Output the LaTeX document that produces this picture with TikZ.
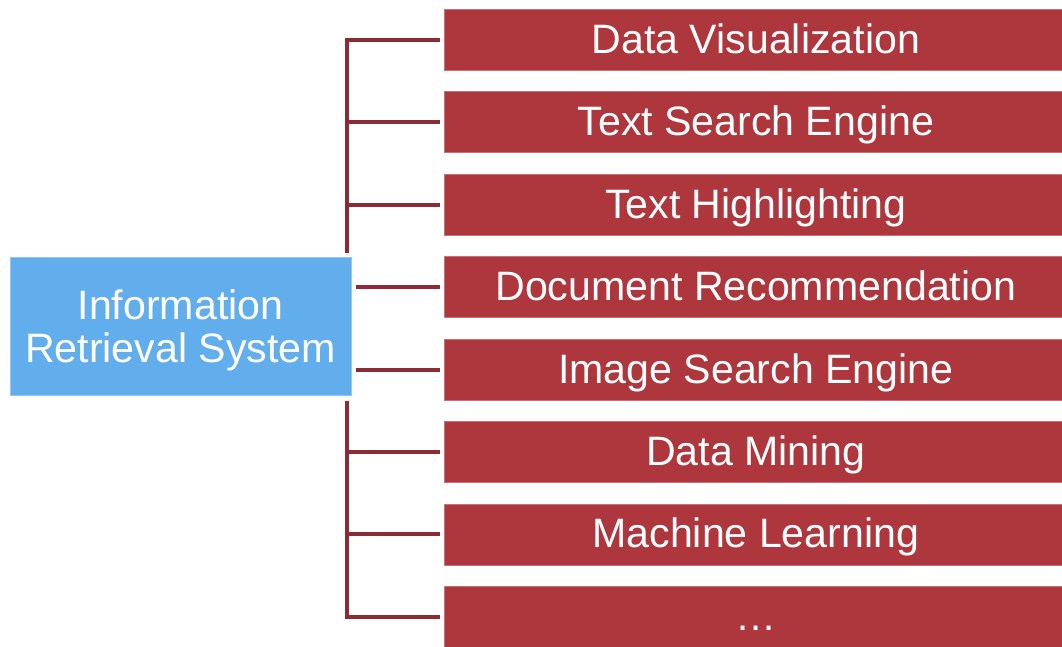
\documentclass[tikz,border=0pt]{standalone}
\usepackage{fontspec}
\setmainfont{Liberation Sans}
\definecolor{itemred}{HTML}{AE363D}
\definecolor{hubblue}{HTML}{62AEEC}
\definecolor{linkred}{HTML}{8C2A35}
\begin{document}
\begin{tikzpicture}[x=1pt,y=-1pt,
  itembox/.style={fill=itemred, draw=itemred!70!white, line width=0.6pt,
    minimum width=618pt, minimum height=61pt, anchor=north west,
    inner sep=0pt, text=white, text height=29pt, text depth=0pt,
    font=\fontsize{41.1}{44}\selectfont},
  itemtext/.style={text=white, inner sep=0pt, text height=29pt, text depth=0pt,
    font=\fontsize{41.1}{44}\selectfont},
  hubbox/.style={fill=hubblue, draw=hubblue!70!white, line width=0.6pt,
    minimum width=341pt, minimum height=138pt, inner sep=0pt,
    text=white, align=center, text depth=0pt,
    font=\fontsize{41.1}{43}\selectfont},
  link/.style={draw=linkred, line width=4pt, line join=miter}]
\useasboundingbox (0,0) rectangle (1062,647);

% central system box
\node[hubbox] (hub) at (180.5,326) {Information\\Retrieval System};

% application boxes, labels set slightly right of centre
\foreach \i/\t in {1/{Data Visualization},2/{Text Search Engine},
    3/{Text Highlighting},4/{Document Recommendation},
    5/{Image Search Engine},6/{Data Mining},7/{Machine Learning},8/{…}} {
  \node[itembox] (b\i) at (444,{9+82.43*(\i-1)}) {};
  \node[itemtext] (l\i) at ([xshift=2.5pt,yshift=1pt]b\i.center) {\t};
}

% trunk end points
\coordinate (tt) at (347,253);
\coordinate (tb) at (347,401);

% outer branches with the trunk
\draw[link] ([xshift=-4pt]b1.west) -| (tt);
\draw[link] ([xshift=-4pt]b8.west) -| (tb);

% inner branches from the trunk
\foreach \i in {2,3,6,7}
  \draw[link] (tt |- b\i.west) -- ([xshift=-4pt]b\i.west);

% branches starting beside the system box
\foreach \i in {4,5}
  \draw[link] ([xshift=5pt]hub.east |- b\i.west) -- ([xshift=-4pt]b\i.west);
\end{tikzpicture}
\end{document}
